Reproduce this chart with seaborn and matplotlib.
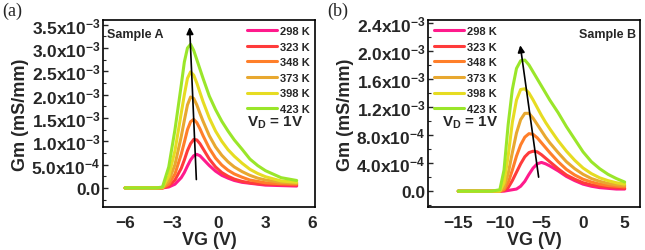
import numpy as np
import pandas as pd
import matplotlib
matplotlib.use("Agg")
import matplotlib.pyplot as plt
from matplotlib.ticker import FixedLocator, MultipleLocator, FuncFormatter
import seaborn as sns

# --- data (Gm in units of 1e-3 mS/mm) ---
temps = ["298 K", "323 K", "348 K", "373 K", "398 K", "423 K"]
colors = ["#FF1A8C", "#FF3B3B", "#FF7F2A", "#E8A830", "#E6DC22", "#9AE62A"]

vg_a = [-6, -4, -3.6, -3.2, -2.8, -2.4, -2.2, -2.0, -1.8, -1.6, -1.4, -1.2,
        -1.0, -0.6, -0.2, 0.2, 0.6, 1.0, 1.5, 2.0, 2.5, 3.0, 4.0, 5.0]
gm_a_298 = [0, 0, 0, 0.02, 0.08, 0.22, 0.33, 0.47, 0.60, 0.69, 0.72, 0.69,
            0.62, 0.48, 0.36, 0.27, 0.21, 0.16, 0.12, 0.10, 0.08, 0.06, 0.05, 0.04]
gm_a_323 = [0, 0, 0, 0.04, 0.17, 0.42, 0.60, 0.80, 0.95, 1.04, 1.03, 0.95,
            0.84, 0.62, 0.45, 0.33, 0.25, 0.19, 0.14, 0.11, 0.09, 0.08, 0.07, 0.06]
gm_a_348 = [0, 0, 0, 0.08, 0.30, 0.72, 0.98, 1.25, 1.42, 1.47, 1.40, 1.27,
            1.12, 0.85, 0.64, 0.49, 0.38, 0.30, 0.23, 0.17, 0.14, 0.11, 0.09, 0.08]
gm_a_373 = [0, 0, 0, 0.15, 0.50, 1.10, 1.45, 1.78, 1.95, 1.92, 1.78, 1.60,
            1.43, 1.12, 0.88, 0.70, 0.56, 0.45, 0.35, 0.27, 0.21, 0.17, 0.12, 0.10]
gm_a_398 = [0, 0, 0.01, 0.25, 0.80, 1.60, 2.00, 2.35, 2.49, 2.42, 2.25, 2.05,
            1.85, 1.50, 1.22, 1.00, 0.82, 0.68, 0.53, 0.40, 0.31, 0.24, 0.15, 0.12]
gm_a_423 = [0, 0, 0.02, 0.45, 1.25, 2.20, 2.70, 3.00, 3.08, 2.95, 2.75, 2.55,
            2.35, 1.97, 1.68, 1.43, 1.22, 1.03, 0.83, 0.62, 0.48, 0.37, 0.22, 0.16]

vg_b = [-15, -11, -10, -9.5, -9, -8.5, -8, -7.5, -7, -6.5, -6, -5.5,
        -5, -4.5, -4, -3, -2, -1, 0, 1, 2, 3, 4, 5]
gm_b_298 = [0, 0, 0, 0, 0.01, 0.02, 0.03, 0.07, 0.14, 0.24, 0.33, 0.39,
            0.41, 0.39, 0.36, 0.29, 0.21, 0.15, 0.10, 0.07, 0.05, 0.04, 0.03, 0.03]
gm_b_323 = [0, 0, 0, 0.01, 0.05, 0.15, 0.27, 0.39, 0.49, 0.55, 0.57, 0.56,
            0.52, 0.47, 0.42, 0.32, 0.23, 0.17, 0.12, 0.09, 0.07, 0.06, 0.05, 0.04]
gm_b_348 = [0, 0, 0, 0.02, 0.12, 0.30, 0.50, 0.66, 0.77, 0.82, 0.81, 0.76,
            0.69, 0.62, 0.55, 0.42, 0.31, 0.23, 0.17, 0.13, 0.10, 0.08, 0.07, 0.06]
gm_b_373 = [0, 0, 0, 0.05, 0.25, 0.55, 0.83, 1.02, 1.11, 1.11, 1.04, 0.95,
            0.86, 0.77, 0.69, 0.55, 0.42, 0.32, 0.24, 0.18, 0.14, 0.11, 0.09, 0.08]
gm_b_398 = [0, 0, 0, 0.12, 0.50, 0.98, 1.30, 1.45, 1.46, 1.40, 1.30, 1.19,
            1.08, 0.98, 0.89, 0.72, 0.57, 0.44, 0.33, 0.25, 0.19, 0.15, 0.12, 0.10]
gm_b_423 = [0, 0, 0.02, 0.30, 0.95, 1.45, 1.75, 1.86, 1.87, 1.80, 1.70, 1.60,
            1.50, 1.40, 1.30, 1.12, 0.92, 0.74, 0.56, 0.42, 0.32, 0.24, 0.18, 0.13]

# arrow (base -> tip), same units
arrow_a = [(-1.43, 0.18), (-1.86, 3.45)]
arrow_b = [(-5.34, 0.20), (-7.55, 2.08)]

yticks_a = [0, 0.5, 1.0, 1.5, 2.0, 2.5, 3.0, 3.5]
yticks_b = [0, 0.4, 0.8, 1.2, 1.6, 2.0, 2.4]
xticks_a = [-6, -3, 0, 3, 6]
xticks_b = [-15, -10, -5, 0, 5]

SCALE = 1e-3


def long_frame(vg, curves):
    rows = []
    for t, gm in zip(temps, curves):
        for x, y in zip(vg, gm):
            rows.append({"VG": x, "Gm": y * SCALE, "T": t})
    return pd.DataFrame(rows)


def sci_label(v, pos):
    if abs(v) < 1e-12:
        return "0.0"
    e = int(np.floor(np.log10(abs(v)) + 1e-9))
    m = v / 10 ** e
    return f"{m:.1f}x10$^{{{e}}}$"


sns.set_theme(style="ticks")
plt.rcParams["font.family"] = ["Liberation Sans", "DejaVu Sans"]
plt.rcParams["font.weight"] = "bold"
plt.rcParams["mathtext.default"] = "regular"

fig = plt.figure(figsize=(6.45, 2.51), dpi=100)
ax_a = fig.add_axes([0.160, 0.173, 0.329, 0.743])
ax_b = fig.add_axes([0.664, 0.173, 0.329, 0.743])

palette = dict(zip(temps, colors))

panels = [
    (ax_a, long_frame(vg_a, [gm_a_298, gm_a_323, gm_a_348, gm_a_373, gm_a_398, gm_a_423]),
     (-7.4, 6.2), (-0.4, 3.6), xticks_a, yticks_a, 0.25, arrow_a, "Sample A"),
    (ax_b, long_frame(vg_b, [gm_b_298, gm_b_323, gm_b_348, gm_b_373, gm_b_398, gm_b_423]),
     (-18.6, 6.9), (-0.22, 2.44), xticks_b, yticks_b, 0.2, arrow_b, "Sample B"),
]

for ax, df, xl, yl, xt, yt, minor, arr, sample in panels:
    sns.lineplot(data=df, x="VG", y="Gm", hue="T", hue_order=temps, palette=palette,
                 linewidth=2.2, ax=ax, sort=True, estimator=None)
    ax.set_xlim(*xl)
    ax.set_ylim(yl[0] * SCALE, yl[1] * SCALE)
    ax.xaxis.set_major_locator(FixedLocator(xt))
    ax.yaxis.set_major_locator(FixedLocator([v * SCALE for v in yt]))
    ax.yaxis.set_minor_locator(MultipleLocator(minor * SCALE))
    ax.yaxis.set_major_formatter(FuncFormatter(sci_label))
    ax.tick_params(axis="y", which="major", direction="in", length=3.5, width=1,
                   labelsize=12.5, pad=2)
    ax.tick_params(axis="y", which="minor", direction="in", length=2, width=0.8)
    ax.tick_params(axis="x", which="both", direction="in", length=0, labelsize=12.5, pad=6)
    for lab in ax.get_xticklabels() + ax.get_yticklabels():
        lab.set_fontweight("bold")
    for sp in ax.spines.values():
        sp.set_linewidth(1.2)
        sp.set_color("black")
    ax.set_xlabel("VG (V)", fontsize=13, fontweight="bold", labelpad=1)
    ax.set_ylabel("Gm (mS/mm)", fontsize=13, fontweight="bold", labelpad=2)

    (x0, y0), (x1, y1) = arr
    ax.annotate("", xy=(x1, y1 * SCALE), xytext=(x0, y0 * SCALE),
                arrowprops=dict(arrowstyle="-|>", color="black", lw=1.2,
                                mutation_scale=10, shrinkA=0, shrinkB=0))

    handles, labels = ax.get_legend_handles_labels()
    leg_kw = dict(frameon=False, prop={"size": 8, "weight": "bold"},
                  handlelength=2.7, handletextpad=0.2, labelspacing=0.5,
                  borderaxespad=0.15)
    if ax is ax_a:
        ax.legend(handles, labels, loc="upper right", bbox_to_anchor=(1.0, 1.0), **leg_kw)
        ax.text(0.02, 0.96, sample, transform=ax.transAxes, fontsize=9,
                fontweight="bold", ha="left", va="top")
        ax.text(0.68, 0.455, "V$_D$ = 1V", transform=ax.transAxes, fontsize=11,
                fontweight="bold", ha="left", va="center")
    else:
        ax.legend(handles, labels, loc="upper left", bbox_to_anchor=(0.0, 1.0), **leg_kw)
        ax.text(0.98, 0.96, sample, transform=ax.transAxes, fontsize=9,
                fontweight="bold", ha="right", va="top")
        ax.text(0.066, 0.455, "V$_D$ = 1V", transform=ax.transAxes, fontsize=11,
                fontweight="bold", ha="left", va="center")

fig.text(0.003, 0.99, "(a)", fontsize=13, family="Liberation Serif",
         fontweight="normal", ha="left", va="top")
fig.text(0.507, 0.99, "(b)", fontsize=13, family="Liberation Serif",
         fontweight="normal", ha="left", va="top")

fig.savefig("out.png", dpi=100)
